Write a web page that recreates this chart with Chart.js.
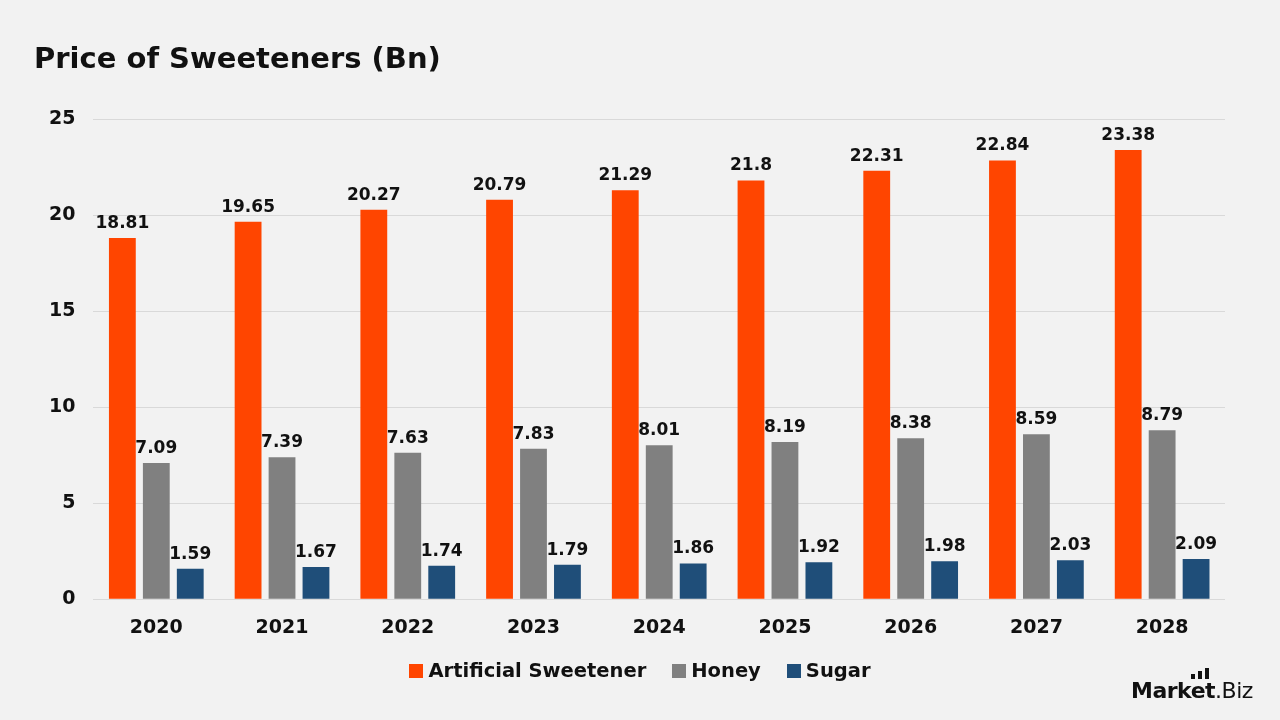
<!DOCTYPE html>
<html>
<head>
<meta charset="utf-8">
<script src="https://cdn.jsdelivr.net/npm/chart.js@4.4.0/dist/chart.umd.min.js"></script>
<style>
  html, body { margin: 0; padding: 0; background: #f2f2f2; }
  #wrap { position: relative; width: 1280px; height: 720px; background: #f2f2f2; }
  #c { position: absolute; left: 0; top: 0; }
  #title { position: absolute; left: 34px; top: 41px; font-family: "DejaVu Sans", sans-serif; font-weight: bold; font-size: 29px; color: #111; line-height: 1.2; white-space: nowrap; }
  #legend { position: absolute; left: 0; width: 1280px; top: 659px; text-align: center; font-family: "DejaVu Sans", sans-serif; font-weight: bold; font-size: 19.5px; color: #111; white-space: nowrap; }
  #legend .item { display: inline-block; margin: 0 13px; }
  #legend .box { display: inline-block; width: 14px; height: 14px; margin-right: 5px; vertical-align: -1px; }
  #logo { position: absolute; left: 1131px; top: 680px; font-family: "DejaVu Sans", sans-serif; font-size: 22px; color: #111; line-height: 1; letter-spacing: -0.5px; }
  #logo b { font-weight: bold; }
  #logo span.r { font-weight: normal; }
  .lb { position: absolute; background: #111; width: 4px; }
</style>
</head>
<body>
<div id="wrap">
  <canvas id="c" width="1280" height="720"></canvas>
  <div id="title">Price of Sweeteners (Bn)</div>
  <div id="legend"></div>
  <div id="logo"><b>Market</b><span class="r">.Biz</span>
    <div class="lb" style="left:60px; top:-6px; height:5px;"></div>
    <div class="lb" style="left:67px; top:-9px; height:8px;"></div>
    <div class="lb" style="left:74px; top:-12px; height:11px;"></div>
  </div>
</div>
<script>
const categories = ["2020","2021","2022","2023","2024","2025","2026","2027","2028"];
const artificialSweetener = [18.81,19.65,20.27,20.79,21.29,21.8,22.31,22.84,23.38];
const honey = [7.09,7.39,7.63,7.83,8.01,8.19,8.38,8.59,8.79];
const sugar = [1.59,1.67,1.74,1.79,1.86,1.92,1.98,2.03,2.09];
const seriesNames = ["Artificial Sweetener","Honey","Sugar"];
const seriesColors = ["#ff4500","#808080","#1f4e79"];
const yTicks = [0,5,10,15,20,25];

const FONT = '"DejaVu Sans", sans-serif';

// HTML legend built from the series names/colours
const lg = document.getElementById('legend');
seriesNames.forEach((n, i) => {
  const it = document.createElement('span');
  it.className = 'item';
  const b = document.createElement('span');
  b.className = 'box';
  b.style.background = seriesColors[i];
  it.appendChild(b);
  it.appendChild(document.createTextNode(n));
  lg.appendChild(it);
});

const dataLabels = {
  id: 'dataLabels',
  afterDatasetsDraw(chart) {
    const ctx = chart.ctx;
    ctx.save();
    ctx.font = 'bold 17px ' + FONT;
    ctx.fillStyle = '#111';
    ctx.textAlign = 'center';
    ctx.textBaseline = 'alphabetic';
    chart.data.datasets.forEach((ds, i) => {
      const meta = chart.getDatasetMeta(i);
      meta.data.forEach((bar, j) => {
        ctx.fillText(String(ds.data[j]), bar.x, bar.y - 10);
      });
    });
    ctx.restore();
  }
};

new Chart(document.getElementById('c'), {
  type: 'bar',
  data: {
    labels: categories,
    datasets: seriesNames.map((n, i) => ({
      label: n,
      data: [artificialSweetener, honey, sugar][i],
      backgroundColor: seriesColors[i]
    }))
  },
  options: {
    responsive: false,
    animation: false,
    devicePixelRatio: 1,
    datasets: { bar: { categoryPercentage: 0.81, barPercentage: 0.79 } },
    layout: { padding: { left: 31, right: 55, top: 119, bottom: 64 } },
    plugins: {
      legend: { display: false },
      tooltip: { enabled: false }
    },
    scales: {
      x: {
        grid: { display: false, drawTicks: false },
        border: { display: false },
        ticks: { color: '#111', font: { family: FONT, size: 19, weight: 'bold' }, padding: 17 }
      },
      y: {
        min: 0, max: 25,
        afterBuildTicks: (s) => { s.ticks = yTicks.map(v => ({ value: v })); },
        grid: { color: '#d9d9d9', drawTicks: false, lineWidth: 1 },
        border: { display: false },
        ticks: { color: '#111', font: { family: FONT, size: 19, weight: 'bold' }, padding: 18 }
      }
    }
  },
  plugins: [dataLabels]
});
</script>
</body>
</html>
